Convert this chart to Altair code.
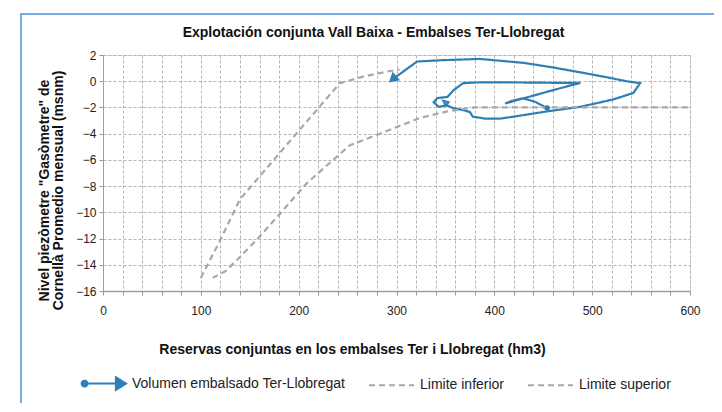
import altair as alt
import pandas as pd

# ---- data ----
series = ["Volumen embalsado Ter-Llobregat", "Limite inferior", "Limite superior"]

vol_x = [454, 441, 429, 418, 411, 430, 447, 464, 488, 460, 430, 400, 380, 368,
         358, 352, 342, 338, 343, 351, 353, 348, 350, 358, 368, 375, 378, 390,
         406, 420, 454, 488, 521, 542, 549, 535, 515, 490, 460, 430, 385, 345,
         321, 296]
vol_y = [-2.05, -1.55, -1.3, -1.5, -1.7, -1.3, -0.95, -0.6, -0.12, -0.12, -0.1,
         -0.08, -0.1, -0.15, -0.7, -1.2, -1.28, -1.6, -1.95, -1.85, -1.6, -1.5,
         -1.8, -2.05, -2.2, -2.35, -2.7, -2.85, -2.85, -2.7, -2.3, -1.95, -1.4,
         -0.9, -0.15, 0.0, 0.3, 0.65, 1.05, 1.4, 1.7, 1.6, 1.5, 0.15]

inf_x = [112, 125, 140, 157, 181, 208, 252, 283, 324, 352, 380, 600]
inf_y = [-15.0, -14.5, -13.4, -12.1, -10.1, -7.8, -4.9, -4.0, -2.8, -2.3, -2.0, -2.0]

sup_x = [100, 120, 140, 242, 266, 290, 303]
sup_y = [-15.0, -12.1, -9.0, -0.15, 0.35, 0.73, 0.9]

x_ticks = list(range(0, 601, 20))
y_ticks = list(range(-16, 3, 2))

rows = []
for name, xs, ys in [(series[0], vol_x, vol_y), (series[1], inf_x, inf_y), (series[2], sup_x, sup_y)]:
    for i, (a, b) in enumerate(zip(xs, ys)):
        rows.append({"serie": name, "x": a, "y": b, "o": i})
df = pd.DataFrame(rows)
last_i = len(vol_x) - 1

BLUE = "#2f7fb5"
GRAY = "#a8a8a8"
FONT = "Liberation Sans"

VOL_PATH = ("M-1,0H0.6 M-0.97,0a0.13,0.13 0 1,0 0.26,0a0.13,0.13 0 1,0 -0.26,0 "
            "M0.55,-0.28L1,0L0.55,0.28Z")
LINE_PATH = "M-1,0H1"

leg = dict(title=None, orient="none", legendX=-23, legendY=305, direction="horizontal",
           symbolSize=2025, symbolStrokeWidth=2, labelFont=FONT, labelFontSize=14,
           labelColor="#222", columnPadding=19, labelOffset=5, labelLimit=400)

color = alt.Color("serie:N", scale=alt.Scale(domain=series, range=[BLUE, GRAY, GRAY]),
                  legend=alt.Legend(**leg))
dash = alt.StrokeDash("serie:N", scale=alt.Scale(domain=series, range=[[1, 0], [6, 4], [6, 4]]),
                      legend=alt.Legend(**leg))
shape = alt.Shape("serie:N", scale=alt.Scale(domain=series, range=[VOL_PATH, LINE_PATH, LINE_PATH]),
                  legend=alt.Legend(**leg))

xenc = alt.X("x:Q", scale=alt.Scale(domain=[0, 600], nice=False),
             axis=alt.Axis(values=x_ticks, tickCount=40,
                           labelExpr="datum.value % 100 == 0 ? datum.label : ''",
                           grid=True, gridDash=[3, 2], gridColor="#b4b4b4", gridWidth=1,
                           tickSize=4, tickColor="#999", domainColor="#a0a0a0", domainWidth=1.5,
                           labelFont=FONT, labelFontSize=12, labelColor="#222", labelPadding=10,
                           labelOverlap=False, labelFlush=False,
                           title="Reservas conjuntas en los embalses Ter i Llobregat (hm3)",
                           titleFont=FONT, titleFontSize=14, titleFontWeight="bold",
                           titleColor="#111", titleX=249, titleY=58, titleAlign="center",
                           titleBaseline="middle"))
yenc = alt.Y("y:Q", scale=alt.Scale(domain=[-16, 2], nice=False),
             axis=alt.Axis(values=y_ticks, tickCount=20, grid=True, gridDash=[3, 2],
                           gridColor="#b4b4b4", labelOverlap=False,
                           gridWidth=1, tickSize=4, tickColor="#999", domainColor="#a0a0a0",
                           labelFont=FONT, labelFontSize=12, labelColor="#222", labelPadding=3,
                           title=["Nivel piezòmetre \"Gasòmetre\" de",
                                  "Cornellà Promedio mensual (msnm)"],
                           titleFont=FONT, titleFontSize=14, titleFontWeight="bold",
                           titleColor="#111", titleX=-59, titleY=135, titleAlign="center",
                           titleBaseline="middle", titleLineHeight=14))

base = alt.Chart(df)

lines = base.mark_line(strokeWidth=2.2).encode(
    x=xenc, y=yenc, color=color, strokeDash=dash, order="o:Q")

legend_only = base.transform_filter("false").mark_point(filled=True, opacity=1).encode(
    x="x:Q", y="y:Q", color=color, shape=shape)

start_pt = base.transform_filter(f"datum.serie == '{series[0]}' && datum.o == 0").mark_point(
    shape="circle", filled=True, size=30, color=BLUE, opacity=1).encode(x="x:Q", y="y:Q")
end_pt = base.transform_filter(f"datum.serie == '{series[0]}' && datum.o == {last_i}").mark_point(
    shape="triangle-up", filled=True, size=130, angle=229, color=BLUE, opacity=1).encode(x="x:Q", y="y:Q")

frame = alt.Chart(pd.DataFrame({"a": [0]})).mark_rect(
    fill="transparent", stroke="#4a8fd6", strokeWidth=1.5).encode(
    x=alt.value(-82), x2=alt.value(613), y=alt.value(-41), y2=alt.value(370))

chart = alt.layer(frame, lines, legend_only, start_pt, end_pt).properties(
    width=587, height=236,
    title=alt.TitleParams("Explotación conjunta Vall Baixa - Embalses Ter-Llobregat",
                          font=FONT, fontSize=14, fontWeight="bold", color="#111",
                          anchor="middle", frame="group", dx=-23, offset=-27),
    autosize=alt.AutoSizeParams(type="none"),
    padding={"left": 95, "top": 47, "right": 24, "bottom": 112},
).configure_view(stroke="transparent").configure(background="white")

chart.save("out.html", embed_options={"renderer": "svg", "actions": False})
